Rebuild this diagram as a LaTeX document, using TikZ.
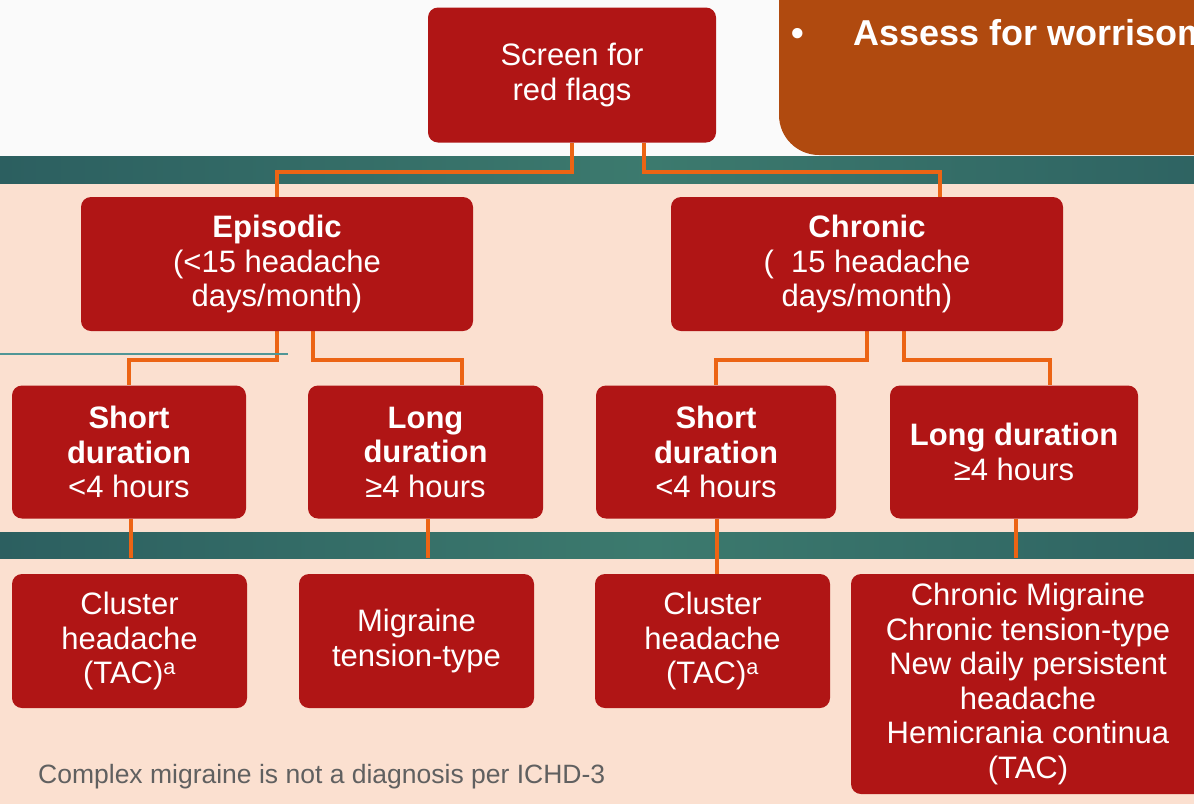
\documentclass[tikz,border=0pt]{standalone}
\usepackage{fontspec}
\setmainfont{Liberation Sans}
\definecolor{boxred}{RGB}{176,21,21}
\definecolor{peach}{RGB}{251,224,208}
\definecolor{topwhite}{RGB}{250,250,250}
\definecolor{connorange}{RGB}{236,100,20}
\definecolor{rustbox}{RGB}{176,74,15}
\definecolor{tealdark}{RGB}{44,95,96}
\definecolor{teallight}{RGB}{60,122,110}
\definecolor{thinteal}{RGB}{80,150,150}
\definecolor{notegray}{RGB}{96,96,96}
\pgfdeclarelayer{bg}
\pgfdeclarelayer{mid}
\pgfsetlayers{bg,mid,main}
\begin{document}
\begin{tikzpicture}[x=1pt,y=-1pt,
  box/.style={fill=boxred, rounded corners=10pt, text=white, align=center, inner sep=0pt,
    font=\fontsize{31}{34.5}\selectfont, execute at begin node={\rule{0pt}{27pt}}},
  conn/.style={draw=connorange, line width=3.4pt, line join=miter},
  band/.style={left color=tealdark, right color=tealdark, middle color=teallight, draw=none}]
\useasboundingbox (0,0) rectangle (1194,804);
\begin{pgfonlayer}{bg}
\begin{scope}
\clip (0,0) rectangle (1194,804);
\fill[topwhite] (0,0) rectangle (1194,156);
\fill[peach] (0,156) rectangle (1194,804);
\shade[band] (0,156) rectangle (1300,183);
\shade[band] (0,532) rectangle (1300,558);
\fill[rustbox] (779,-20) -- (779,115) arc[start angle=180, end angle=90, radius=40] -- (1200,155) -- (1200,-20) -- cycle;
\end{scope}
\end{pgfonlayer}
\begin{scope}
\clip (0,0) rectangle (1194,804);
\node[anchor=base, text=white, font=\fontsize{36}{40}\selectfont\bfseries] (bullet) at (798,45) {•};
\node[anchor=base west, text=white, font=\fontsize{36}{40}\selectfont\bfseries, inner sep=0pt] (assess) at (853,45) {Assess for worrisome};

% boxes
\node[box, minimum width=288pt, minimum height=135pt] (screen) at (572,75) {Screen for\\red flags};
\node[box, minimum width=392pt, minimum height=134pt] (epi) at (277,264) {\textbf{Episodic}\\(<15 headache\\days/month)};
\node[box, minimum width=392pt, minimum height=134pt] (chr) at (867,264) {\textbf{Chronic}\\(\hspace{0.55em}15 headache\\days/month)};
\node[box, minimum width=234pt, minimum height=133pt] (s1) at (129,452) {\textbf{Short}\\\textbf{duration}\\<4 hours};
\node[box, minimum width=235pt, minimum height=133pt] (l1) at (425.5,452) {\textbf{Long}\\\textbf{duration}\\≥4 hours};
\node[box, minimum width=240pt, minimum height=133pt] (s2) at (716,452) {\textbf{Short}\\\textbf{duration}\\<4 hours};
\node[box, minimum width=248pt, minimum height=133pt] (l2) at (1014,452) {\textbf{Long duration}\\≥4 hours};
\node[box, minimum width=235pt, minimum height=134pt] (c1) at (129.5,641) {Cluster\\headache\\(TAC)\textsuperscript{a}};
\node[box, minimum width=235pt, minimum height=134pt] (mig) at (416.5,641) {Migraine\\tension-type};
\node[box, minimum width=235pt, minimum height=134pt] (c2) at (712.5,641) {Cluster\\headache\\(TAC)\textsuperscript{a}};
\node[box, minimum width=354pt, minimum height=220pt] (list) at (1028,684) {Chronic Migraine\\Chronic tension-type\\New daily persistent\\headache\\Hemicrania continua\\(TAC)};
\end{scope}

\node[anchor=base west, inner sep=0pt, text=notegray, font=\fontsize{26.5}{29}\selectfont] (note) at (38,783) {Complex migraine is not a diagnosis per ICHD-3};

% connectors
\coordinate (j1) at (0,172);
\coordinate (j2) at (0,360);
\coordinate (b2) at (0,558);
\coordinate (chrin) at ([xshift=73pt]chr.north);
\coordinate (l1in) at ([xshift=36.5pt]l1.north);
\coordinate (l2in) at ([xshift=36pt]l2.north);
\begin{pgfonlayer}{mid}
\draw[conn] (screen.south) |- (j1 -| epi.north) -- (epi.north);
\draw[conn] ([xshift=72pt]screen.south) |- (j1 -| chrin) -- (chrin);
\draw[conn] (epi.south) |- (j2 -| s1.north) -- (s1.north);
\draw[conn] ([xshift=36pt]epi.south) |- (j2 -| l1in) -- (l1in);
\draw[conn] (chr.south) |- (j2 -| s2.north) -- (s2.north);
\draw[conn] ([xshift=37pt]chr.south) |- (j2 -| l2in) -- (l2in);
\draw[conn] ([xshift=2pt]s1.south) -- ([xshift=2pt]s1.south |- b2);
\draw[conn] ([xshift=2.5pt]l1.south) -- ([xshift=2.5pt]l1.south |- b2);
\draw[conn] ([xshift=1pt]s2.south) -- ([xshift=1pt]s2.south |- c2.north);
\draw[conn] ([xshift=2pt]l2.south) -- ([xshift=2pt]l2.south |- b2);
\draw[thinteal, line width=1.2pt] (0,354) -- (288,354);
\end{pgfonlayer}
\end{tikzpicture}
\end{document}
